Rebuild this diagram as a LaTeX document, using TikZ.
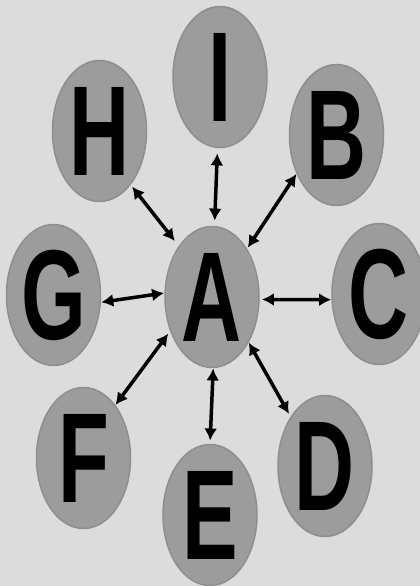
\documentclass[tikz,border=0pt]{standalone}
\usepackage{fontspec}
\setmainfont{Liberation Sans}
\usetikzlibrary{arrows.meta,shapes.geometric}
\definecolor{bg}{HTML}{DCDCDC}
\definecolor{ovalfill}{HTML}{9C9C9C}
\definecolor{ovaledge}{HTML}{8E8E8E}
\newcommand{\ltr}[1]{\scalebox{0.65}[1]{\fontsize{128}{128}\selectfont\bfseries #1}}
\begin{document}
\begin{tikzpicture}[x=1pt,y=-1pt,
  oval/.style={ellipse, fill=ovalfill, draw=ovaledge, line width=1.5pt,
    minimum width=94pt, minimum height=141pt, inner sep=0pt, outer sep=0pt},
  link/.style={{Latex[length=12pt,width=13pt]}-{Latex[length=12pt,width=13pt]},
    line width=3.5pt, black, shorten <=1pt, shorten >=1pt}]
\fill[bg] (0,0) rectangle (420,586);
\useasboundingbox (0,0) rectangle (420,586);
\node[oval] (A) at (212,297) {\ltr{A}};
\node[oval] (I) at (220,77) {\ltr{I}};
\node[oval] (H) at (99.5,131) {\ltr{H}};
\node[oval] (B) at (336.5,135) {\ltr{B}};
\node[oval] (G) at (53.5,295) {\ltr{G}};
\node[oval] (C) at (379,294) {\ltr{C}};
\node[oval] (F) at (83.5,458) {\ltr{F}};
\node[oval] (E) at (210,515) {\ltr{E}};
\node[oval] (D) at (325,466) {\ltr{D}};
\draw[link, shorten <=6pt, shorten >=6pt] (A.88) -- (I.268);
\draw[link, shorten <=7pt, shorten >=3pt] (A.123) -- (H.300);
\draw[link, shorten <=2pt] (A.54) -- (B.224);
\draw[link] (A.175) -- (G.351);
\draw[link, shorten <=3pt] (A.357) -- (C.187);
\draw[link, shorten <=4pt] (A.219) -- (F.59);
\draw[link, shorten >=4pt] (A.271) -- (E.90);
\draw[link, shorten >=4pt] (A.309) -- (D.125);
\end{tikzpicture}
\end{document}
